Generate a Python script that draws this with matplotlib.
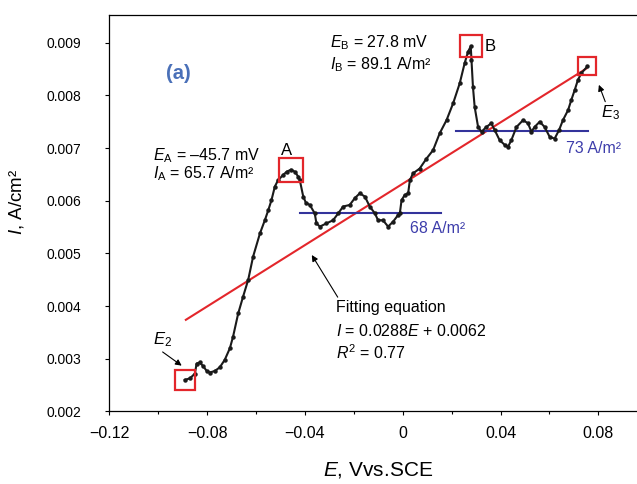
import matplotlib
matplotlib.use("Agg")
import matplotlib.pyplot as plt

plt.rcParams['font.family'] = ['Liberation Sans', 'DejaVu Sans']
plt.rcParams['mathtext.fontset'] = 'custom'
plt.rcParams['mathtext.rm'] = 'Liberation Sans'
plt.rcParams['mathtext.it'] = 'Liberation Sans:italic'
plt.rcParams['mathtext.bf'] = 'Liberation Sans:bold'

# potencial E (V vs SCE) y densidad de corriente I (A/cm2)
E = [-0.0891, -0.0870, -0.0850, -0.0843, -0.0830, -0.0816, -0.0802, -0.0789, -0.0768, -0.0748,
     -0.0728, -0.0707, -0.0694, -0.0673, -0.0653, -0.0632, -0.0612, -0.0584, -0.0564, -0.0550,
     -0.0537, -0.0523, -0.0510, -0.0489, -0.0475, -0.0457, -0.0441, -0.0428, -0.0421, -0.0407,
     -0.0396, -0.0380, -0.0360, -0.0353, -0.0339, -0.0312, -0.0285, -0.0264, -0.0244, -0.0217,
     -0.0196, -0.0176, -0.0155, -0.0135, -0.0114, -0.0101, -0.0081, -0.0060, -0.0040, -0.0019,
     -0.0012, -0.0005, 0.0008, 0.0022, 0.0029, 0.0042, 0.0069, 0.0097, 0.0124, 0.0151,
     0.0179, 0.0206, 0.0233, 0.0253, 0.0267, 0.0278, 0.0281, 0.0287, 0.0294, 0.0308,
     0.0322, 0.0342, 0.0362, 0.0376, 0.0396, 0.0417, 0.0430, 0.0444, 0.0465, 0.0492,
     0.0512, 0.0526, 0.0539, 0.0560, 0.0580, 0.0601, 0.0621, 0.0639, 0.0655, 0.0676,
     0.0689, 0.0703, 0.0716, 0.0730, 0.0755]
I = [0.00260, 0.00263, 0.00272, 0.00291, 0.00293, 0.00286, 0.00277, 0.00274, 0.00277, 0.00284,
     0.00298, 0.00320, 0.00342, 0.00386, 0.00418, 0.00450, 0.00494, 0.00538, 0.00563, 0.00582,
     0.00601, 0.00627, 0.00639, 0.00649, 0.00655, 0.00659, 0.00655, 0.00646, 0.00639, 0.00608,
     0.00596, 0.00592, 0.00576, 0.00557, 0.00551, 0.00557, 0.00563, 0.00576, 0.00589, 0.00592,
     0.00605, 0.00614, 0.00608, 0.00589, 0.00576, 0.00563, 0.00563, 0.00551, 0.00560, 0.00573,
     0.00576, 0.00601, 0.00611, 0.00614, 0.00639, 0.00652, 0.00661, 0.00680, 0.00696, 0.00728,
     0.00753, 0.00785, 0.00823, 0.00861, 0.00883, 0.00893, 0.00867, 0.00816, 0.00778, 0.00740,
     0.00731, 0.00740, 0.00747, 0.00734, 0.00715, 0.00706, 0.00702, 0.00715, 0.00740, 0.00753,
     0.00747, 0.00731, 0.00740, 0.00750, 0.00740, 0.00721, 0.00718, 0.00734, 0.00753, 0.00772,
     0.00791, 0.00810, 0.00829, 0.00842, 0.00855]

# recta de ajuste
fit_E = [-0.0887, 0.0751]
fit_I = [0.00374, 0.00851]

# niveles medios (lineas azules)
nivel_68_E = [-0.0421, 0.0158]
nivel_68_I = 0.00576
nivel_73_E = [0.0217, 0.0757]
nivel_73_I = 0.00733

# puntos marcados: E2, A, B, E3
idx_marcas = [0, 25, 65, 94]
tam_marcas = [14, 17, 16, 13]

xticks = [-0.12, -0.08, -0.04, 0, 0.04, 0.08]
xticklabels = ['\u22120.12', '\u22120.08', '\u22120.04', '0', '0.04', '0.08']
yticks = [0.002, 0.003, 0.004, 0.005, 0.006, 0.007, 0.008, 0.009]

rojo = '#e3262b'
azul = '#33339b'
azul_txt = '#3d3dab'

fig = plt.figure(figsize=(6.37, 4.84), dpi=100)
ax = fig.add_axes([0.1716, 0.1498, 0.8446, 0.8182])

ax.plot(fit_E, fit_I, color=rojo, lw=1.5, zorder=2)
ax.plot(nivel_68_E, [nivel_68_I] * 2, color=azul, lw=1.5, zorder=2)
ax.plot(nivel_73_E, [nivel_73_I] * 2, color=azul, lw=1.5, zorder=2)
ax.plot(E, I, color='#1a1a1a', lw=1.5, marker='o', ms=2.2, zorder=3)

for i, s in zip(idx_marcas, tam_marcas):
    ax.plot(E[i], I[i], marker='s', ms=s, mfc='none', mec=rojo, mew=1.6, zorder=4)

fs = 11.5
ax.text(-0.0916, 0.00841, '(a)', color='#4a70b8', fontsize=14.5, fontweight='bold',
        ha='center', va='center')
ax.text(-0.0298, 0.00900, r'$E_{\rm B}$ = 27.8 mV', fontsize=fs, va='center')
ax.text(-0.0298, 0.00858, r'$I_{\rm B}$ = 89.1 A/m²', fontsize=fs, va='center')
ax.text(0.0335, 0.00892, 'B', fontsize=fs + 0.5, va='center')
ax.text(-0.1022, 0.00685, r'$E_{\rm A}$ = ' + '\u201345.7 mV', fontsize=fs, va='center')
ax.text(-0.1022, 0.00651, r'$I_{\rm A}$ = 65.7 A/m²', fontsize=fs, va='center')
ax.text(-0.0476, 0.00696, 'A', fontsize=fs + 0.5, ha='center', va='center')
ax.text(0.0029, 0.00548, '68 A/m²', fontsize=fs, color=azul_txt, va='center')
ax.text(0.0669, 0.00699, '73 A/m²', fontsize=fs, color=azul_txt, va='center')
ax.text(0.0812, 0.00767, r'$E_3$', fontsize=fs + 0.5, va='center')
ax.text(-0.1022, 0.00336, r'$E_2$', fontsize=fs + 0.5, va='center')
ax.text(-0.0275, 0.00397, 'Fitting equation', fontsize=fs, va='center')
ax.text(-0.0275, 0.00353, r'$I$ = 0.0288$E$ + 0.0062', fontsize=fs, va='center')
ax.text(-0.0275, 0.00311, r'$R^2$ = 0.77', fontsize=fs, va='center')

flecha = dict(arrowstyle='-|>', color='black', lw=0.8, mutation_scale=9,
              shrinkA=0, shrinkB=0)
ax.annotate('', xy=(0.0802, 0.00820), xytext=(0.0828, 0.00788), arrowprops=flecha)
ax.annotate('', xy=(-0.0904, 0.00287), xytext=(-0.0982, 0.00313), arrowprops=flecha)
ax.annotate('', xy=(-0.0372, 0.00497), xytext=(-0.0266, 0.00417), arrowprops=flecha)

ax.set_xlim(-0.12, 0.10)
ax.set_ylim(0.002, 0.009516)
ax.set_xticks(xticks)
ax.set_xticklabels(xticklabels)
ax.set_xticks([-0.10, -0.06, -0.02, 0.02, 0.06], minor=True)
ax.set_yticks(yticks)
ax.set_yticklabels([f'{v:.3f}' for v in yticks])
ax.tick_params(axis='both', which='major', direction='out', length=3, width=0.8)
ax.tick_params(axis='x', which='major', pad=7.5, labelsize=11.5)
ax.tick_params(axis='y', which='major', pad=17, labelsize=10)
ax.tick_params(axis='x', which='minor', direction='out', length=2, width=0.8)
ax.spines['right'].set_visible(False)
for lado in ['left', 'bottom', 'top']:
    ax.spines[lado].set_linewidth(0.9)

ax.set_xlabel(r'$E$, Vvs.SCE', fontsize=15)
ax.xaxis.label.set_va('center')
ax.xaxis.set_label_coords(0.4994, -0.148)
ax.set_ylabel(r'$I$, A/cm²', fontsize=13.5)
ax.yaxis.label.set_va('center')
ax.yaxis.set_label_coords(-0.173, 0.529)

fig.savefig('out.png', dpi=100)
